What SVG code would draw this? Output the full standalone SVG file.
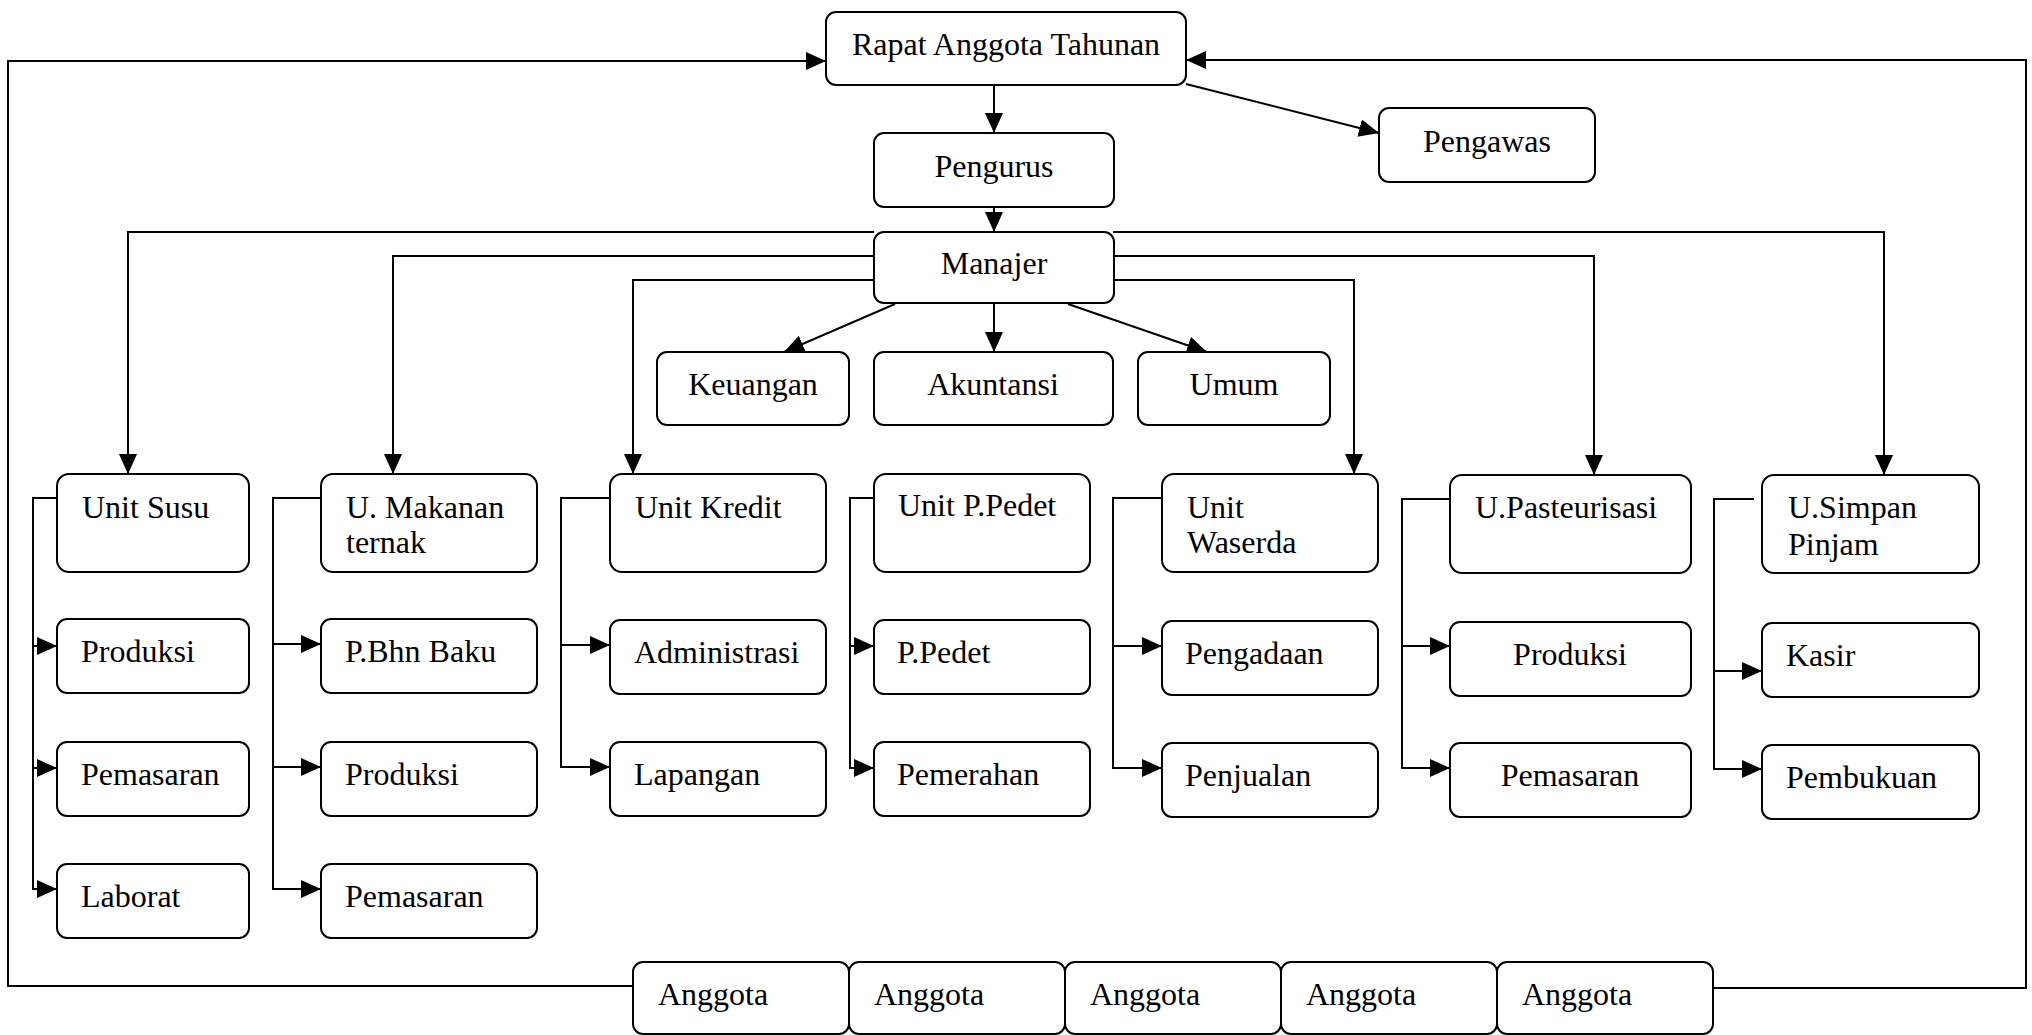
<svg xmlns="http://www.w3.org/2000/svg" width="2032" height="1035" viewBox="0 0 2032 1035">
<defs>
<marker id="ah" markerWidth="20" markerHeight="18" refX="20" refY="9" orient="auto" markerUnits="userSpaceOnUse"><path d="M0,0 L20,9 L0,18 z" fill="#000"/></marker>
<style>
.b{fill:#fff;stroke:#000;stroke-width:2}
.t{font-family:"Liberation Serif","Times New Roman",serif;font-size:32px;fill:#000}
.c{text-anchor:middle}
.k{fill:none;stroke:#000;stroke-width:2}
.a{marker-end:url(#ah)}
</style>
</defs>
<rect width="2032" height="1035" fill="#fff"/>
<g id="connectors" class="k">
<path class="a" d="M633,986 H8 V61 H826"/>
<path class="a" d="M1713,988 H2026 V60 H1186"/>
<path class="a" d="M994,85 V133"/>
<path class="a" d="M1186,84 L1379,133"/>
<path class="a" d="M994,207 V232"/>
<path class="a" d="M895,304 L784,352"/>
<path class="a" d="M994,303 V352"/>
<path class="a" d="M1068,304 L1207,352"/>
<path class="a" d="M874,232 H128 V474"/>
<path class="a" d="M874,256 H393 V474"/>
<path class="a" d="M874,280 H633 V474"/>
<path class="a" d="M1113,232 H1884 V475"/>
<path class="a" d="M1113,256 H1594 V475"/>
<path class="a" d="M1113,280 H1354 V474"/>
<path class="a" d="M57,498 H33 V889 H57"/>
<path class="a" d="M33,646 H57"/>
<path class="a" d="M33,768 H57"/>
<path class="a" d="M321,498 H273 V889 H321"/>
<path class="a" d="M273,644 H321"/>
<path class="a" d="M273,767 H321"/>
<path class="a" d="M610,498 H561 V767 H610"/>
<path class="a" d="M561,645 H610"/>
<path class="a" d="M874,498 H850 V768 H874"/>
<path class="a" d="M850,646 H874"/>
<path class="a" d="M1162,498 H1113 V768 H1162"/>
<path class="a" d="M1113,646 H1162"/>
<path class="a" d="M1450,499 H1402 V768 H1450"/>
<path class="a" d="M1402,646 H1450"/>
<path class="a" d="M1754,499 H1714 V769 H1762"/>
<path class="a" d="M1714,671 H1762"/>
</g>
<g id="rapat"><rect class="b" x="826" y="12" width="360" height="73" rx="10"/><text class="t c" x="1006" y="55">Rapat Anggota Tahunan</text></g>
<g id="pengurus"><rect class="b" x="874" y="133" width="240" height="74" rx="10"/><text class="t c" x="994" y="177">Pengurus</text></g>
<g id="pengawas"><rect class="b" x="1379" y="108" width="216" height="74" rx="10"/><text class="t c" x="1487" y="152">Pengawas</text></g>
<g id="manajer"><rect class="b" x="874" y="232" width="240" height="71" rx="10"/><text class="t c" x="994" y="274">Manajer</text></g>
<g id="keuangan"><rect class="b" x="657" y="352" width="192" height="73" rx="10"/><text class="t c" x="753" y="395">Keuangan</text></g>
<g id="akuntansi"><rect class="b" x="874" y="352" width="239" height="73" rx="10"/><text class="t c" x="993" y="395">Akuntansi</text></g>
<g id="umum"><rect class="b" x="1138" y="352" width="192" height="73" rx="10"/><text class="t c" x="1234" y="395">Umum</text></g>

<g id="unit-susu"><rect class="b" x="57" y="474" width="192" height="98" rx="12"/><text class="t" x="82" y="518">Unit Susu</text></g>
<g id="unit-makanan"><rect class="b" x="321" y="474" width="216" height="98" rx="12"/><text class="t" x="346" y="518">U. Makanan</text><text class="t" x="346" y="553">ternak</text></g>
<g id="unit-kredit"><rect class="b" x="610" y="474" width="216" height="98" rx="12"/><text class="t" x="635" y="518">Unit Kredit</text></g>
<g id="unit-pedet"><rect class="b" x="874" y="474" width="216" height="98" rx="12"/><text class="t" x="898" y="516">Unit P.Pedet</text></g>
<g id="unit-waserda"><rect class="b" x="1162" y="474" width="216" height="98" rx="12"/><text class="t" x="1187" y="518">Unit</text><text class="t" x="1187" y="553">Waserda</text></g>
<g id="unit-pasteurisasi"><rect class="b" x="1450" y="475" width="241" height="98" rx="12"/><text class="t" x="1475" y="518">U.Pasteurisasi</text></g>
<g id="unit-simpan"><rect class="b" x="1762" y="475" width="217" height="98" rx="12"/><text class="t" x="1788" y="518">U.Simpan</text><text class="t" x="1788" y="555">Pinjam</text></g>

<g id="susu-produksi"><rect class="b" x="57" y="619" width="192" height="74" rx="10"/><text class="t" x="81" y="662">Produksi</text></g>
<g id="susu-pemasaran"><rect class="b" x="57" y="742" width="192" height="74" rx="10"/><text class="t" x="81" y="785">Pemasaran</text></g>
<g id="susu-laborat"><rect class="b" x="57" y="864" width="192" height="74" rx="10"/><text class="t" x="81" y="907">Laborat</text></g>

<g id="mak-bahan"><rect class="b" x="321" y="619" width="216" height="74" rx="10"/><text class="t" x="345" y="662">P.Bhn Baku</text></g>
<g id="mak-produksi"><rect class="b" x="321" y="742" width="216" height="74" rx="10"/><text class="t" x="345" y="785">Produksi</text></g>
<g id="mak-pemasaran"><rect class="b" x="321" y="864" width="216" height="74" rx="10"/><text class="t" x="345" y="907">Pemasaran</text></g>

<g id="kredit-admin"><rect class="b" x="610" y="620" width="216" height="74" rx="10"/><text class="t" x="634" y="663">Administrasi</text></g>
<g id="kredit-lapangan"><rect class="b" x="610" y="742" width="216" height="74" rx="10"/><text class="t" x="634" y="785">Lapangan</text></g>

<g id="pedet-pedet"><rect class="b" x="874" y="620" width="216" height="74" rx="10"/><text class="t" x="897" y="663">P.Pedet</text></g>
<g id="pedet-pemerahan"><rect class="b" x="874" y="742" width="216" height="74" rx="10"/><text class="t" x="897" y="785">Pemerahan</text></g>

<g id="waserda-pengadaan"><rect class="b" x="1162" y="621" width="216" height="74" rx="10"/><text class="t" x="1185" y="664">Pengadaan</text></g>
<g id="waserda-penjualan"><rect class="b" x="1162" y="743" width="216" height="74" rx="10"/><text class="t" x="1185" y="786">Penjualan</text></g>

<g id="past-produksi"><rect class="b" x="1450" y="622" width="241" height="74" rx="10"/><text class="t c" x="1570" y="665">Produksi</text></g>
<g id="past-pemasaran"><rect class="b" x="1450" y="743" width="241" height="74" rx="10"/><text class="t c" x="1570" y="786">Pemasaran</text></g>

<g id="simpan-kasir"><rect class="b" x="1762" y="623" width="217" height="74" rx="10"/><text class="t" x="1786" y="666">Kasir</text></g>
<g id="simpan-pembukuan"><rect class="b" x="1762" y="745" width="217" height="74" rx="10"/><text class="t" x="1786" y="788">Pembukuan</text></g>

<g id="anggota-1"><rect class="b" x="633" y="962" width="216" height="72" rx="10"/><text class="t" x="658" y="1005">Anggota</text></g>
<g id="anggota-2"><rect class="b" x="849" y="962" width="216" height="72" rx="10"/><text class="t" x="874" y="1005">Anggota</text></g>
<g id="anggota-3"><rect class="b" x="1065" y="962" width="216" height="72" rx="10"/><text class="t" x="1090" y="1005">Anggota</text></g>
<g id="anggota-4"><rect class="b" x="1281" y="962" width="216" height="72" rx="10"/><text class="t" x="1306" y="1005">Anggota</text></g>
<g id="anggota-5"><rect class="b" x="1497" y="962" width="216" height="72" rx="10"/><text class="t" x="1522" y="1005">Anggota</text></g>
</svg>
